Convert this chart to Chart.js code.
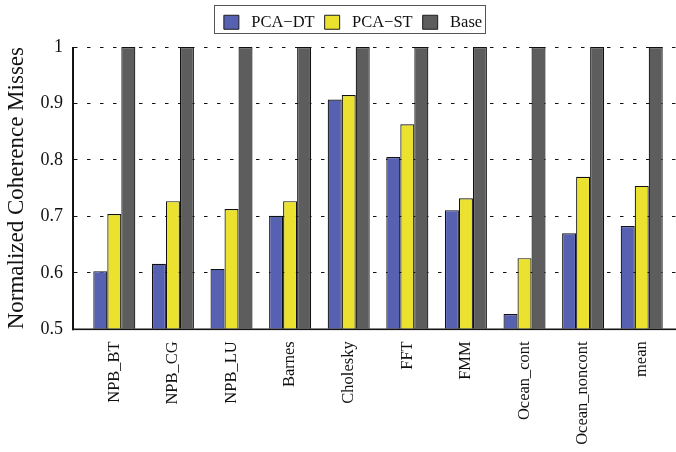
<!DOCTYPE html>
<html>
<head>
<meta charset="utf-8">
<script src="https://cdn.jsdelivr.net/npm/chart.js@4/dist/chart.umd.min.js"></script>
<style>
  html, body { margin: 0; padding: 0; background: #ffffff; overflow: hidden; }
  #wrap { width: 676px; height: 452px; position: relative; }
</style>
</head>
<body>
<div id="wrap"><canvas id="chart" width="676" height="452"></canvas></div>
<script>
// Benchmarks along the x axis
const categories = ['NPB_BT', 'NPB_CG', 'NPB_LU', 'Barnes', 'Cholesky', 'FFT', 'FMM', 'Ocean_cont', 'Ocean_noncont', 'mean'];
// Normalized coherence misses per scheme
const pcaDT = [0.603, 0.616, 0.607, 0.701, 0.907, 0.805, 0.711, 0.527, 0.670, 0.683];
const pcaST = [0.704, 0.727, 0.713, 0.727, 0.915, 0.863, 0.732, 0.626, 0.770, 0.754];
const base  = [1, 1, 1, 1, 1, 1, 1, 1, 1, 1];
const seriesNames = ['PCA\u2212DT', 'PCA\u2212ST', 'Base'];
const yTicks = [0.5, 0.6, 0.7, 0.8, 0.9, 1];

const SERIF = "'Liberation Serif', 'DejaVu Serif', serif";
const toPoints = arr => arr.map((v, i) => ({ x: i, y: v }));

// Legend placement, the frame around its entries, and the axis lines
const legendFrame = {
  id: 'legendFrame',
  afterUpdate(chart) {
    const lg = chart.legend;
    lg.left += 15; lg.right += 15;
    lg.top += 4; lg.bottom += 4;
    lg.adjustHitBoxes();
  },
  afterDraw(chart) {
    const lg = chart.legend;
    const boxes = lg.legendHitBoxes;
    const ctx = chart.ctx;
    ctx.save();
    if (boxes && boxes.length) {
      const first = boxes[0], last = boxes[boxes.length - 1];
      const x0 = Math.round(first.left - 10) + 0.5;
      const x1 = Math.round(last.left + last.width + 3) + 0.5;
      ctx.strokeStyle = '#555555';
      ctx.lineWidth = 1;
      ctx.strokeRect(x0, 5.5, x1 - x0, 28);
    }
    const a = chart.chartArea;
    ctx.fillStyle = '#151515';
    ctx.fillRect(a.left - 1, a.top, 1.6, a.bottom - a.top + 1);
    ctx.fillRect(a.left - 1, a.bottom - 0.8, a.right - a.left + 1, 1.6);
    ctx.restore();
  }
};

// Fixed legend band height
const legendHeight = {
  id: 'legendHeight',
  beforeInit(chart) {
    const lg = chart.legend;
    const fit = lg.fit;
    lg.fit = function () { fit.call(this); this.height = 47; };
  }
};

const barStyle = { borderColor: '#111111', borderWidth: 1.2, base: 0.5, categoryPercentage: 0.717, barPercentage: 1 };

new Chart(document.getElementById('chart'), {
  type: 'bar',
  data: {
    datasets: [
      Object.assign({ label: seriesNames[0], data: toPoints(pcaDT), backgroundColor: '#5761b1' }, barStyle),
      Object.assign({ label: seriesNames[1], data: toPoints(pcaST), backgroundColor: '#eae22e' }, barStyle),
      Object.assign({ label: seriesNames[2], data: toPoints(base),  backgroundColor: '#5d5d5d' }, barStyle)
    ]
  },
  options: {
    responsive: false,
    animation: false,
    layout: { padding: 0 },
    plugins: {
      tooltip: { enabled: false },
      legend: {
        position: 'top',
        align: 'center',
        labels: {
          boxWidth: 15,
          boxHeight: 14,
          padding: 10,
          color: '#111111',
          font: { family: SERIF, size: 16.5 },
          generateLabels(chart) {
            return Chart.defaults.plugins.legend.labels.generateLabels(chart).map(item => {
              item.text = ' ' + item.text;
              item.lineWidth = 1;
              item.strokeStyle = '#1c1c1c';
              return item;
            });
          }
        }
      }
    },
    scales: {
      x: {
        type: 'linear',
        min: -0.705,
        max: 9.585,
        offset: false,
        grid: { display: false, drawTicks: false },
        border: { display: true, color: '#111111', width: 1 },
        afterBuildTicks(scale) { scale.ticks = categories.map((_, i) => ({ value: i })); },
        afterFit(scale) { scale.height = 122.7; },
        ticks: {
          autoSkip: false,
          minRotation: 90,
          maxRotation: 90,
          padding: 12,
          color: '#111111',
          font: { family: SERIF, size: 16.5 },
          callback: v => categories[v]
        }
      },
      y: {
        min: 0.5,
        max: 1,
        afterBuildTicks(scale) { scale.ticks = yTicks.map(v => ({ value: v })); },
        afterFit(scale) { scale.width = 73; },
        grid: {
          color: '#111111',
          lineWidth: 1,
          drawTicks: false
        },
        border: { display: true, color: '#111111', width: 1, dash: [3.5, 9.5] },
        ticks: {
          padding: 10,
          color: '#111111',
          font: { family: SERIF, size: 18 },
          callback: v => String(Number(v.toFixed(1)))
        },
        title: {
          display: true,
          text: 'Normalized Coherence Misses',
          color: '#111111',
          font: { family: SERIF, size: 23 },
          padding: { top: 3, bottom: 0 }
        }
      }
    }
  },
  plugins: [legendHeight, legendFrame]
});
</script>
</body>
</html>
